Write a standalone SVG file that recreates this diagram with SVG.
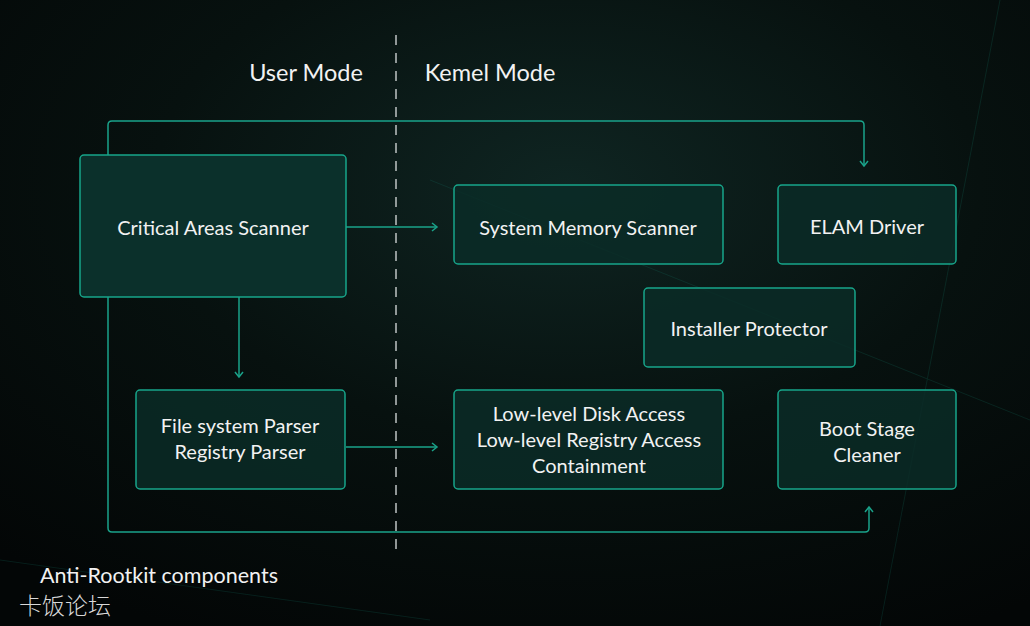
<svg xmlns="http://www.w3.org/2000/svg" width="1030" height="626" viewBox="0 0 1030 626">
<style>
.box{fill:#0a2b27;fill-opacity:0.85;stroke:#17a58a;stroke-width:1.5}
.lbl{font-family:Lato,"Open Sans","Liberation Sans",sans-serif;font-size:20px;fill:#f2f2f2;text-anchor:middle}
.hdr{font-family:Lato,"Open Sans","Liberation Sans",sans-serif;font-size:23.5px;fill:#f2f2f2;text-anchor:middle}
.conn{fill:none;stroke:#1aa38a;stroke-width:1.5}
</style>
<defs>
<radialGradient id="bg" cx="0.55" cy="0.3" r="0.8">
<stop offset="0" stop-color="#0f2522"/>
<stop offset="0.5" stop-color="#07110f"/>
<stop offset="1" stop-color="#030606"/>
</radialGradient>
<marker id="arr" markerWidth="10" markerHeight="10" refX="6" refY="5" orient="auto" markerUnits="userSpaceOnUse">
<path d="M1,1 L6,5 L1,9" fill="none" stroke="#1aa38a" stroke-width="1.5"/>
</marker>
</defs>
<rect width="1030" height="626" fill="url(#bg)"/>
<g opacity="0.15" stroke="#1aa38a" stroke-width="1" fill="none">
<path d="M880,626 L1000,0"/>
<path d="M430,180 L1030,420"/>
<path d="M0,560 L430,620"/>
</g>
<line x1="396" y1="35" x2="396" y2="552" stroke="#bfc4c3" stroke-width="1.5" stroke-dasharray="10,8"/>
<text class="hdr" x="306" y="81">User Mode</text>
<text class="hdr" x="490" y="81">Kemel Mode</text>
<g id="connectors">
<path class="conn" d="M108,155 V125 Q108,121 112,121 H860 Q864,121 864,125 V166" marker-end="url(#arr)"/>
<path class="conn" d="M108,297 V528 Q108,532 112,532 H865 Q869,532 869,528 V507" marker-end="url(#arr)"/>
<path class="conn" d="M346,227 H437" marker-end="url(#arr)"/>
<path class="conn" d="M239,297 V377" marker-end="url(#arr)"/>
<path class="conn" d="M346,447 H437" marker-end="url(#arr)"/>
</g>
<g id="critical-areas-scanner">
<rect class="box" x="80" y="155" width="266" height="142" rx="4" style="fill:#0b302b;fill-opacity:1"/>
<text class="lbl" x="213" y="235">Critical Areas Scanner</text>
</g>
<g id="system-memory-scanner">
<rect class="box" x="454" y="185" width="269" height="79" rx="4"/>
<text class="lbl" x="588" y="235">System Memory Scanner</text>
</g>
<g id="elam-driver">
<rect class="box" x="778" y="185" width="178" height="79" rx="4"/>
<text class="lbl" x="867" y="234">ELAM Driver</text>
</g>
<g id="installer-protector">
<rect class="box" x="644" y="288" width="211" height="79" rx="4"/>
<text class="lbl" x="749" y="336">Installer Protector</text>
</g>
<g id="file-system-parser">
<rect class="box" x="136" y="390" width="209" height="99" rx="4"/>
<text class="lbl" x="240" y="433">File system Parser</text>
<text class="lbl" x="240" y="459">Registry Parser</text>
</g>
<g id="low-level-access">
<rect class="box" x="454" y="390" width="269" height="99" rx="4"/>
<text class="lbl" x="589" y="421">Low-level Disk Access</text>
<text class="lbl" x="589" y="447">Low-level Registry Access</text>
<text class="lbl" x="589" y="473">Containment</text>
</g>
<g id="boot-stage-cleaner">
<rect class="box" x="778" y="390" width="178" height="99" rx="4"/>
<text class="lbl" x="867" y="436">Boot Stage</text>
<text class="lbl" x="867" y="462">Cleaner</text>
</g>
<text x="40" y="583" font-family="Lato,'Open Sans','Liberation Sans',sans-serif" font-size="21.5" fill="#f2f2f2">Anti-Rootkit components</text>
<text x="19" y="614" font-family="'Noto Sans CJK SC',sans-serif" font-size="23" font-weight="300" fill="#d8d8d8">卡饭论坛</text>
</svg>
